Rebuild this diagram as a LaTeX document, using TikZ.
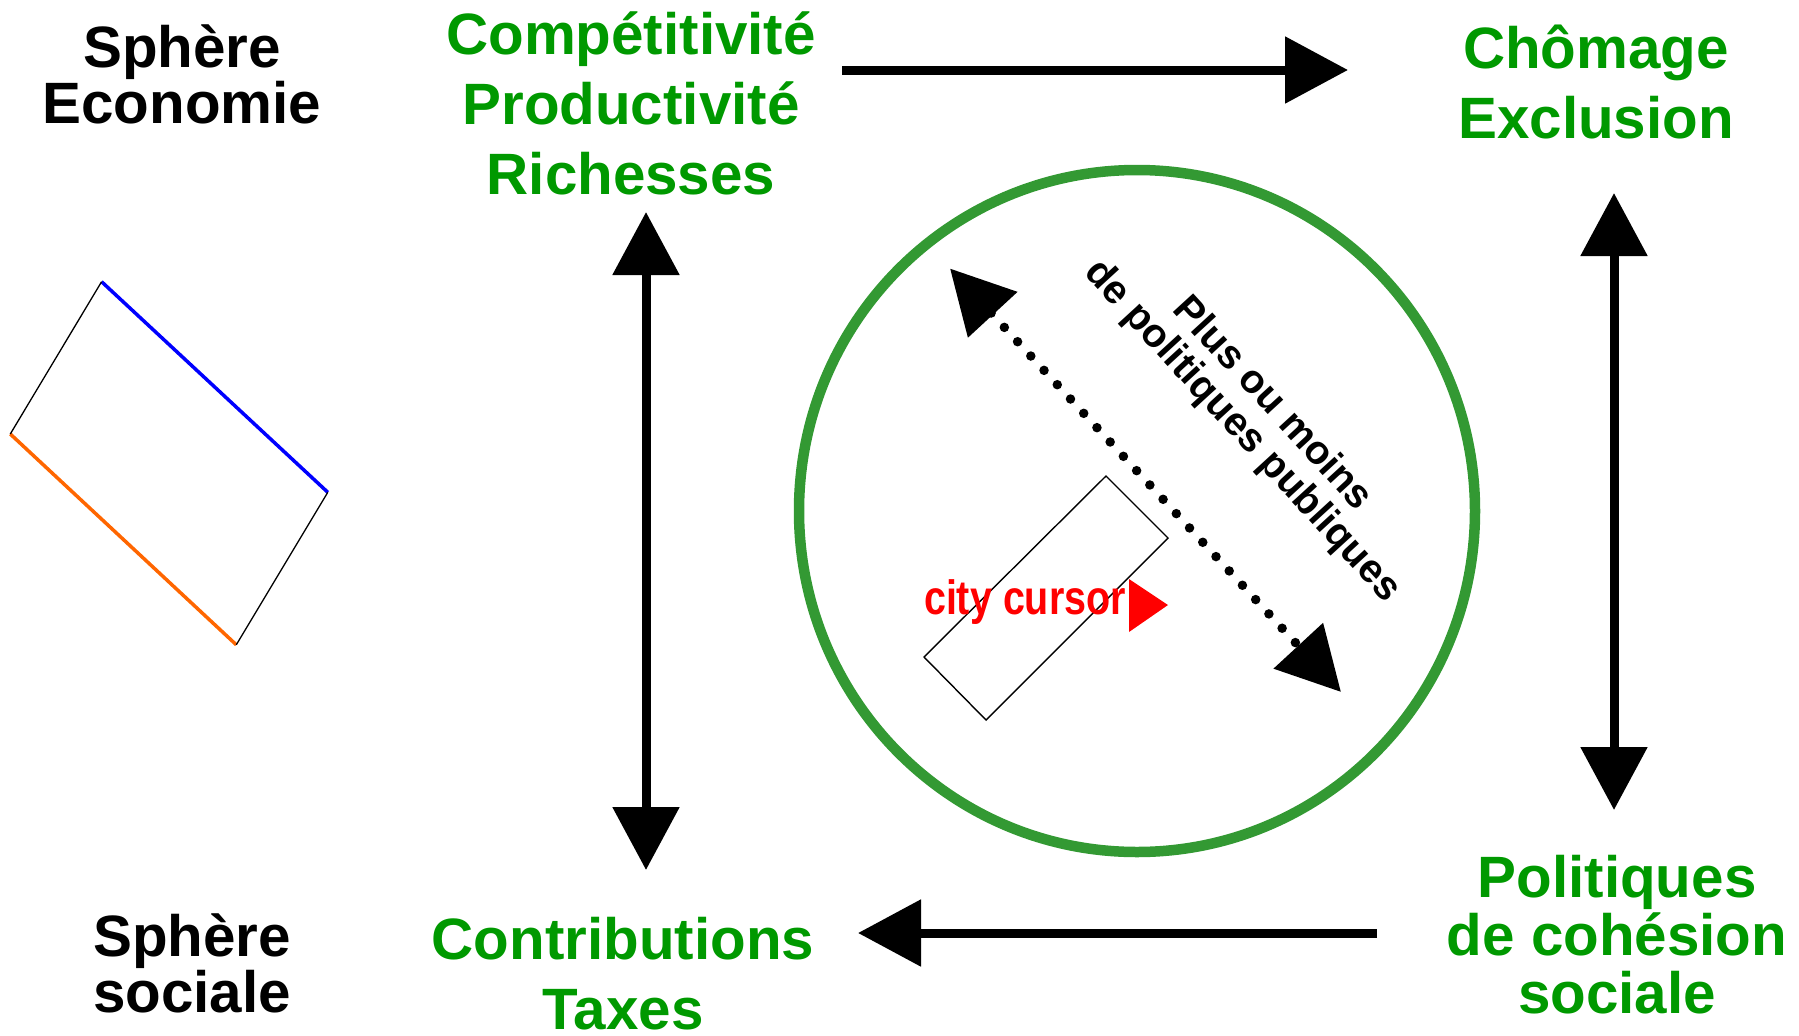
\documentclass[tikz,border=0pt]{standalone}
\usepackage{fontspec}
\setmainfont{Liberation Sans}
\newfontfamily\narrowfont[FakeStretch=0.82]{Liberation Sans}
\usetikzlibrary{arrows.meta,positioning}
\definecolor{labelGreen}{RGB}{0,153,0}
\definecolor{ringGreen}{RGB}{51,153,51}
\definecolor{edgeOrange}{RGB}{255,102,0}

\begin{document}
\begin{tikzpicture}[x=0.1mm,y=-0.1mm,
        sphereText/.style={align=center,anchor=base,inner sep=0pt,font=\bfseries\fontsize{16.6pt}{15.9pt}\selectfont},
        factorText/.style={align=center,anchor=base,inner sep=0pt,text=labelGreen,font=\bfseries\fontsize{16.6pt}{19.9pt}\selectfont},
        bigTip/.tip={Triangle[length=6.3mm,width=6.5mm]},
        oneWay/.style={line width=0.9mm,-bigTip},
        twoWay/.style={line width=0.9mm,bigTip-bigTip}]

            \useasboundingbox (0,0) rectangle (1799,1035);

            % Sphere labels (base = last line)
            \node[sphereText] (sphereEco) at (182,123) {Sphère\\Economie};
            \node[sphereText] (sphereSoc) at (192,1012) {Sphère\\sociale};

            % Green labels
            \node[factorText] (compet) at (631,194) {Compétitivité\\Productivité\\Richesses};
            \node[factorText] (chomage) at (1596,138) {Chômage\\Exclusion};
            \node[factorText,font=\bfseries\fontsize{16.6pt}{16.5pt}\selectfont] (politiques) at (1617,1013) {Politiques\\de cohésion\\sociale};
            \node[factorText] (contrib) at (623,1029) {Contributions\\Taxes};

            % Invisible end points
            \coordinate (competOut) at (842,70);
            \coordinate (chomageIn) at (1348,70);
            \coordinate (chomageOut) at (1614,193);
            \coordinate (politiquesIn) at (1614,810);
            \coordinate (politiquesOut) at (1377,933);
            \coordinate (contribIn) at (858,933);
            \coordinate (contribOut) at (646,870);
            \coordinate (competIn) at (646,212);

            % Arcs between the labels
            \draw[oneWay] (competOut) -- (chomageIn);
            \draw[twoWay] (chomageOut) -- (politiquesIn);
            \draw[oneWay] (politiquesOut) -- (contribIn);
            \draw[twoWay] (contribOut) -- (competIn);

            % Left tilted box
            \coordinate (boxTop) at (101.6,281.7);
            \coordinate (boxRight) at (327.8,492.3);
            \coordinate (boxBottom) at (236.3,644.8);
            \coordinate (boxLeft) at (10.3,434);
            \draw[blue,line width=0.35mm] (boxTop) -- (boxRight);
            \draw[edgeOrange,line width=0.35mm] (boxLeft) -- (boxBottom);
            \draw[line width=0.13mm] (boxRight) -- (boxBottom);
            \draw[line width=0.13mm] (boxLeft) -- (boxTop);

            % ================== Middle ring ==================
            \coordinate (ringCenter) at (1137,511);
            \draw[ringGreen,line width=1.05mm] (ringCenter) ellipse [x radius=338, y radius=341];

            % Dotted arrow with its text
            \coordinate (dotStart) at (950,268.5);
            \coordinate (dotEnd) at (1341,692);
            \draw[line width=0.95mm,dash pattern=on 0pt off 1.95mm,line cap=round,bigTip-bigTip] (dotStart) -- (dotEnd);
            \node[rotate=-47.5,align=center,inner sep=0pt,font=\bfseries\fontsize{11.4pt}{11.6pt}\selectfont] (policyText) at (1257,418) {Plus ou moins\\de politiques publiques};

            % City cursor
            \draw[line width=0.14mm] (1106,476) -- (1168,538) -- (986,720) -- (924,657) -- cycle;
            \node[anchor=base,inner sep=0pt,text=red,font=\narrowfont\bfseries\fontsize{13.7pt}{16pt}\selectfont] (cityCursor) at (1025,614) {city cursor};
            \fill[red] (1129,579) -- (1129,632) -- (1168,605) -- cycle;
            % ==================================================

\end{tikzpicture}
\end{document}
